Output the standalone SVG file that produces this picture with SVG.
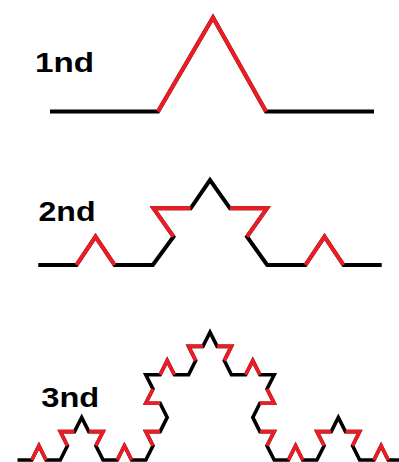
<svg xmlns="http://www.w3.org/2000/svg" width="399" height="462" viewBox="0 0 399 462">
<style>
.bk{fill:none;stroke:#000;stroke-width:4;stroke-linejoin:miter;stroke-linecap:butt}
.rd{fill:none;stroke:#ed1c24;stroke-width:4;stroke-linejoin:miter;stroke-linecap:butt}
.l3 polyline{stroke-width:3.6}
.lbl{font-family:"Liberation Sans",Arial,sans-serif;font-weight:bold;font-size:27px;fill:#000}
</style>
<rect width="399" height="462" fill="#fff"/>
<g id="label1"><text class="lbl" x="35" y="72.3" textLength="59" lengthAdjust="spacingAndGlyphs">1nd</text></g>
<g id="label2"><text class="lbl" x="38.5" y="221" textLength="57" lengthAdjust="spacingAndGlyphs">2nd</text></g>
<g id="label3"><text class="lbl" x="41.3" y="406.7" textLength="58" lengthAdjust="spacingAndGlyphs">3nd</text></g>
<g id="level1">
<polyline class="bk" points="50,111.5 158,111.5 213,17.5 266,111.5 374,111.5"/>
<polyline class="rd" points="158,111.5 213,17.5 266,111.5"/>
</g>
<g id="level2">
<polyline class="bk" points="38.3,265 76.5,265 95.5,236.7 114.6,265 152.8,265 173.5,236.7 153.5,208.3 190.7,208.3 210,180 230,208.3 267,208.3 247,236.7 267.2,265 305.4,265 324.5,236.7 343.5,265 381.7,265"/>
<polyline class="rd" points="76.5,265 95.5,236.7 114.6,265"/>
<polyline class="rd" points="173.5,236.7 153.5,208.3 190.7,208.3"/>
<polyline class="rd" points="230,208.3 267,208.3 247,236.7"/>
<polyline class="rd" points="305.4,265 324.5,236.7 343.5,265"/>
</g>
<g id="level3" class="l3">
<polyline class="bk" points="17.5,460 31.8,460 38.9,445.8 46.0,460 60.3,460 67.4,445.8 60.3,431.6 74.5,431.6 81.7,417.4 88.8,431.6 103.1,431.6 95.9,445.8 103.1,460 117.3,460 124.4,445.8 131.6,460 145.8,460 153.0,445.8 145.8,431.6 160.1,431.6 167.2,417.4 160.1,403.2 145.8,403.2 153.0,389.0 145.8,374.8 160.1,374.8 167.2,360.6 174.4,374.8 188.6,374.8 195.7,360.6 188.6,346.4 202.9,346.4 210.0,332.2 217.1,346.4 231.4,346.4 224.3,360.6 231.4,374.8 245.6,374.8 252.8,360.6 259.9,374.8 274.2,374.8 267.0,389.0 274.2,403.2 259.9,403.2 252.8,417.4 259.9,431.6 274.2,431.6 267.0,445.8 274.2,460 288.4,460 295.6,445.8 302.7,460 316.9,460 324.1,445.8 316.9,431.6 331.2,431.6 338.3,417.4 345.5,431.6 359.7,431.6 352.6,445.8 359.7,460 374.0,460 381.1,445.8 388.2,460 402.5,460"/>
<polyline class="rd" points="31.8,460 38.9,445.8 46.0,460"/>
<polyline class="rd" points="67.4,445.8 60.3,431.6 74.5,431.6"/>
<polyline class="rd" points="88.8,431.6 103.1,431.6 95.9,445.8"/>
<polyline class="rd" points="117.3,460 124.4,445.8 131.6,460"/>
<polyline class="rd" points="153.0,445.8 145.8,431.6 160.1,431.6"/>
<polyline class="rd" points="160.1,403.2 145.8,403.2 153.0,389.0"/>
<polyline class="rd" points="160.1,374.8 167.2,360.6 174.4,374.8"/>
<polyline class="rd" points="195.7,360.6 188.6,346.4 202.9,346.4"/>
<polyline class="rd" points="217.1,346.4 231.4,346.4 224.3,360.6"/>
<polyline class="rd" points="245.6,374.8 252.8,360.6 259.9,374.8"/>
<polyline class="rd" points="267.0,389.0 274.2,403.2 259.9,403.2"/>
<polyline class="rd" points="259.9,431.6 274.2,431.6 267.0,445.8"/>
<polyline class="rd" points="288.4,460 295.6,445.8 302.7,460"/>
<polyline class="rd" points="324.1,445.8 316.9,431.6 331.2,431.6"/>
<polyline class="rd" points="345.5,431.6 359.7,431.6 352.6,445.8"/>
<polyline class="rd" points="374.0,460 381.1,445.8 388.2,460"/>
</g>
</svg>
